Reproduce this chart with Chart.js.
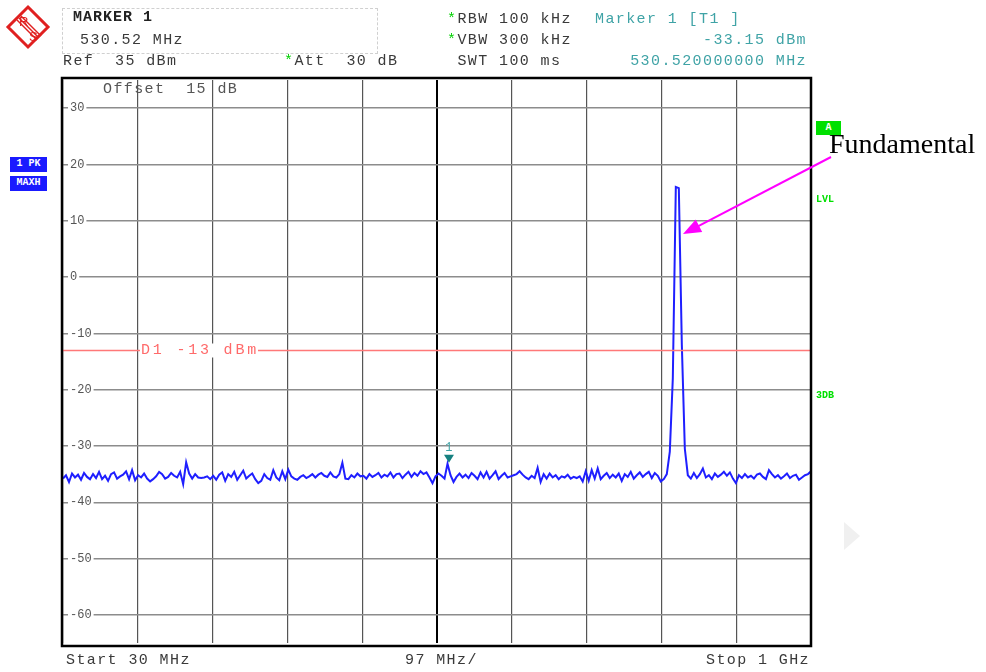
<!DOCTYPE html>
<html>
<head>
<meta charset="utf-8">
<script src="https://cdn.jsdelivr.net/npm/chart.js@4.4.1/dist/chart.umd.min.js"></script>
<style>
  body { margin: 0; background: #fff; }
  #wrap { position: relative; width: 986px; height: 672px; overflow: hidden; }
  #spec { position: absolute; left: 0; top: 0; }
  .t { position: absolute; font-family: "Liberation Mono", monospace; font-size: 15px;
       letter-spacing: 1.4px; line-height: 14px; color: #3a3a3a; white-space: pre; }
  .teal { color: #3fa3a6; }
  .star { color: #00d000; }
  .r { text-align: right; }
  .box { position: absolute; background: #1a1aff; color: #fff; font-family: "Liberation Mono", monospace;
         font-size: 10px; font-weight: bold; line-height: 14px; text-align: center; }
  .grn { position: absolute; color: #00e000; font-family: "Liberation Mono", monospace;
         font-size: 10px; font-weight: bold; line-height: 12px; }
</style>
</head>
<body>
<div id="wrap">
  <canvas id="spec" width="986" height="672"></canvas>

  <svg style="position:absolute;left:0;top:0" width="60" height="60">
    <polygon points="28,7 48,27 28,47 8,27" fill="#fff" stroke="#e02020" stroke-width="3"/>
    <line x1="17" y1="20" x2="37" y2="40" stroke="#e02020" stroke-width="1.5"/>
    <line x1="19" y1="18" x2="39" y2="38" stroke="#e02020" stroke-width="1.5"/>
    <line x1="21" y1="16" x2="41" y2="36" stroke="#e02020" stroke-width="1.5"/>
    <text x="19" y="26" font-family="Liberation Sans" font-size="13" fill="#e02020">R</text>
    <text x="29" y="41" font-family="Liberation Sans" font-size="13" fill="#e02020">S</text>
  </svg>
  <div style="position:absolute;left:62px;top:8px;width:314px;height:44px;border:1px dashed #d0d0d0;"></div>
  <div class="t" style="left:73px;top:11px;font-weight:bold;color:#222;letter-spacing:1px;">MARKER 1</div>
  <div class="t" style="left:80px;top:34px;">530.52 MHz</div>
  <div class="t" style="left:63px;top:55px;">Ref  35 dBm</div>
  <div class="t" style="left:284px;top:55px;"><span class="star">*</span>Att  30 dB</div>

  <div class="t" style="left:447px;top:13px;"><span class="star">*</span>RBW 100 kHz</div>
  <div class="t" style="left:447px;top:34px;"><span class="star">*</span>VBW 300 kHz</div>
  <div class="t" style="left:447px;top:55px;"> SWT 100 ms</div>
  <div class="t teal" style="left:595px;top:13px;">Marker 1 [T1 ]</div>
  <div class="t teal r" style="left:600px;top:34px;width:207px;">-33.15 dBm</div>
  <div class="t teal r" style="left:600px;top:55px;width:207px;">530.520000000 MHz</div>

  <div class="t" style="left:103px;top:83px;color:#555;">Offset  15 dB</div>

  <div class="box" style="left:10px;top:157px;width:37px;height:15px;">1 PK</div>
  <div class="box" style="left:10px;top:176px;width:37px;height:15px;">MAXH</div>
  <div class="box" style="left:816px;top:121px;width:25px;height:14px;background:#00e000;">A</div>
  <div class="grn" style="left:816px;top:194px;">LVL</div>
  <div class="grn" style="left:816px;top:390px;">3DB</div>

  <div style="position:absolute;left:829px;top:128px;font-family:'Liberation Serif',serif;font-size:28px;color:#000;">Fundamental</div>

  <svg style="position:absolute;left:840px;top:518px" width="24" height="36">
    <polygon points="4,4 20,18 4,32" fill="#f0f0f0"/>
  </svg>

  <div class="t" style="left:66px;top:654px;">Start 30 MHz</div>
  <div class="t" style="left:405px;top:654px;">97 MHz/</div>
  <div class="t r" style="left:600px;top:654px;width:210px;">Stop 1 GHz</div>
</div>

<script>
// sweep: 250 points from 30 MHz to 1 GHz
const freqStart = 30;
const freqStop = 1000;
const gridFreqs = [30, 127, 224, 321, 418, 515, 612, 709, 806, 903, 1000];
const levelTicks = [30, 20, 10, 0, -10, -20, -30, -40, -50, -60];
const displayLine = -13;
const markerFreq = 530.52;
const markerLevel = -33.15;

// trace level in dBm
const traceLevels = [
  -35.8, -35.2, -36.4, -34.9, -35.6, -35.1, -36.0, -34.8, -35.5, -35.9,
  -35.0, -35.7, -34.6, -35.9, -35.3, -36.2, -35.0, -34.7, -35.8, -35.4,
  -35.1, -34.5, -35.9, -34.3, -36.1, -35.2, -35.6, -34.9, -35.8, -36.3,
  -35.9, -35.4, -34.6, -35.0, -35.8, -35.5, -34.8, -35.3, -35.6, -34.6,
  -36.8, -32.9, -34.9, -35.8, -35.0, -35.6, -35.7, -35.6, -35.4, -35.9,
  -35.3, -36.0, -35.1, -34.7, -36.2, -35.0, -35.5, -34.6, -36.0, -35.2,
  -34.4, -35.8, -35.3, -34.9, -35.9, -36.6, -36.2, -35.0, -35.7, -36.0,
  -34.3, -35.6, -36.1, -34.5, -35.9, -34.2, -35.4, -35.8, -36.0, -35.5,
  -35.2, -35.7, -35.4, -35.0, -35.6, -35.1, -34.8, -35.3, -35.5, -34.7,
  -35.4, -35.6, -35.0, -33.0, -35.8, -35.9, -35.2, -35.6, -34.9, -35.4,
  -35.3, -35.8, -35.0, -35.5, -35.2, -34.8, -35.6, -35.1, -35.4, -34.7,
  -35.6, -35.0, -34.9, -35.7, -35.1, -34.6, -35.5, -34.8, -35.3, -34.5,
  -35.0, -34.7, -35.6, -36.6, -35.4, -34.9, -35.3, -35.8, -33.15, -35.2,
  -36.4, -35.5, -34.9, -35.6, -35.1, -35.7, -34.8, -35.3, -35.9, -34.7,
  -35.6, -34.6, -35.8, -35.2, -34.5, -35.9, -35.3, -34.8, -35.6, -35.4,
  -35.2, -35.0, -34.5, -35.1, -35.6, -35.9, -35.3, -35.7, -33.9, -36.4,
  -35.0, -35.8, -34.9, -35.6, -35.2, -35.9, -35.4, -35.6, -35.1, -35.8,
  -35.5, -35.7, -35.4, -36.3, -34.5, -36.2, -34.3, -35.8, -34.0, -35.9,
  -35.3, -34.8, -35.7, -35.1, -35.6, -34.9, -36.2, -35.0, -35.5, -34.6,
  -35.8, -35.2, -34.7, -35.5, -35.0, -34.6, -35.7, -34.8, -35.3, -36.3,
  -35.9, -35.0, -31.0, -18.0, 16.0, 15.8, -12.0, -30.5, -35.2, -35.8,
  -34.8, -35.7, -35.0, -34.0, -35.6, -35.2, -35.9, -34.9, -35.5, -35.1,
  -34.6, -35.3, -34.7, -35.8, -36.6, -35.2, -35.7, -35.0, -35.6, -35.3,
  -35.8, -35.1, -34.9, -35.5, -35.9, -34.3, -35.0, -35.6, -35.2, -35.8,
  -35.4, -34.9, -35.7, -35.3, -35.1, -36.0, -35.6, -35.2, -35.0, -34.5
];

const step = (freqStop - freqStart) / (traceLevels.length - 1);
const tracePoints = traceLevels.map((v, i) => ({ x: freqStart + i * step, y: v }));

const MONO = '"Liberation Mono", monospace';

// frame, display line, marker and the arrow annotation
const overlay = {
  id: 'overlay',
  afterDatasetsDraw(chart) {
    const { ctx, chartArea: a, scales: { x, y } } = chart;
    ctx.save();

    // D1 line
    const yd = Math.round(y.getPixelForValue(displayLine)) + 0.5;
    ctx.strokeStyle = '#ff7878';
    ctx.lineWidth = 1.5;
    ctx.beginPath();
    ctx.moveTo(a.left, yd);
    ctx.lineTo(a.right, yd);
    ctx.stroke();
    ctx.font = '15px ' + MONO;
    ctx.letterSpacing = '2.8px';
    ctx.fillStyle = '#fff';
    ctx.fillRect(140, yd - 7, 118, 14);
    ctx.fillStyle = '#ff6a6a';
    ctx.textBaseline = 'middle';
    ctx.fillText('D1 -13 dBm', 141, yd);
    ctx.letterSpacing = '0px';

    // marker 1
    const mx = x.getPixelForValue(markerFreq);
    const my = y.getPixelForValue(markerLevel);
    ctx.fillStyle = '#168080';
    ctx.beginPath();
    ctx.moveTo(mx - 5, my - 9);
    ctx.lineTo(mx + 5, my - 9);
    ctx.lineTo(mx, my - 1);
    ctx.closePath();
    ctx.fill();
    ctx.fillStyle = '#3fa3a6';
    ctx.font = '12px ' + MONO;
    ctx.textAlign = 'center';
    ctx.fillText('1', mx, my - 16);

    // frame
    ctx.strokeStyle = '#000';
    ctx.lineWidth = 2.5;
    ctx.strokeRect(a.left - 1, a.top - 2, a.right - a.left + 1, a.bottom - a.top + 5);

    // arrow to the fundamental
    const tipX = 683, tipY = 234, tailX = 831, tailY = 157;
    const ang = Math.atan2(tipY - tailY, tipX - tailX);
    ctx.strokeStyle = '#ff00ff';
    ctx.fillStyle = '#ff00ff';
    ctx.lineWidth = 2;
    ctx.beginPath();
    ctx.moveTo(tailX, tailY);
    ctx.lineTo(tipX - 14 * Math.cos(ang), tipY - 14 * Math.sin(ang));
    ctx.stroke();
    ctx.beginPath();
    ctx.moveTo(tipX, tipY);
    ctx.lineTo(tipX - 18 * Math.cos(ang) + 7 * Math.sin(ang), tipY - 18 * Math.sin(ang) - 7 * Math.cos(ang));
    ctx.lineTo(tipX - 18 * Math.cos(ang) - 7 * Math.sin(ang), tipY - 18 * Math.sin(ang) + 7 * Math.cos(ang));
    ctx.closePath();
    ctx.fill();
    ctx.restore();
  }
};

new Chart(document.getElementById('spec').getContext('2d'), {
  type: 'line',
  data: {
    datasets: [{
      data: tracePoints,
      borderColor: '#1f1fff',
      borderWidth: 2,
      pointRadius: 0,
      tension: 0
    }]
  },
  options: {
    responsive: false,
    animation: false,
    events: [],
    layout: { padding: { left: 63, right: 175, top: 80, bottom: 29 } },
    plugins: { legend: { display: false }, tooltip: { enabled: false } },
    scales: {
      x: {
        type: 'linear',
        min: freqStart,
        max: freqStop,
        afterBuildTicks: s => { s.ticks = gridFreqs.map(v => ({ value: v })); },
        afterFit: s => { s.height = 0; },
        ticks: { display: false },
        border: { display: false },
        grid: {
          drawTicks: false,
          color: c => (c.tick && c.tick.value === 515 ? '#000' : '#555'),
          lineWidth: c => (c.tick && c.tick.value === 515 ? 2 : 1.2)
        }
      },
      y: {
        min: -65,
        max: 35,
        afterBuildTicks: s => { s.ticks = levelTicks.map(v => ({ value: v })); },
        afterFit: s => { s.width = 0; },
        border: { display: false },
        grid: { drawTicks: false, color: '#8c8c8c', lineWidth: 1.5 },
        ticks: {
          mirror: true,
          padding: 7,
          color: '#555',
          font: { family: MONO, size: 12 },
          showLabelBackdrop: true,
          backdropColor: '#fff',
          backdropPadding: { left: 2, right: 2, top: 1, bottom: 1 },
          callback: v => String(v)
        }
      }
    }
  },
  plugins: [overlay]
});
</script>
</body>
</html>
